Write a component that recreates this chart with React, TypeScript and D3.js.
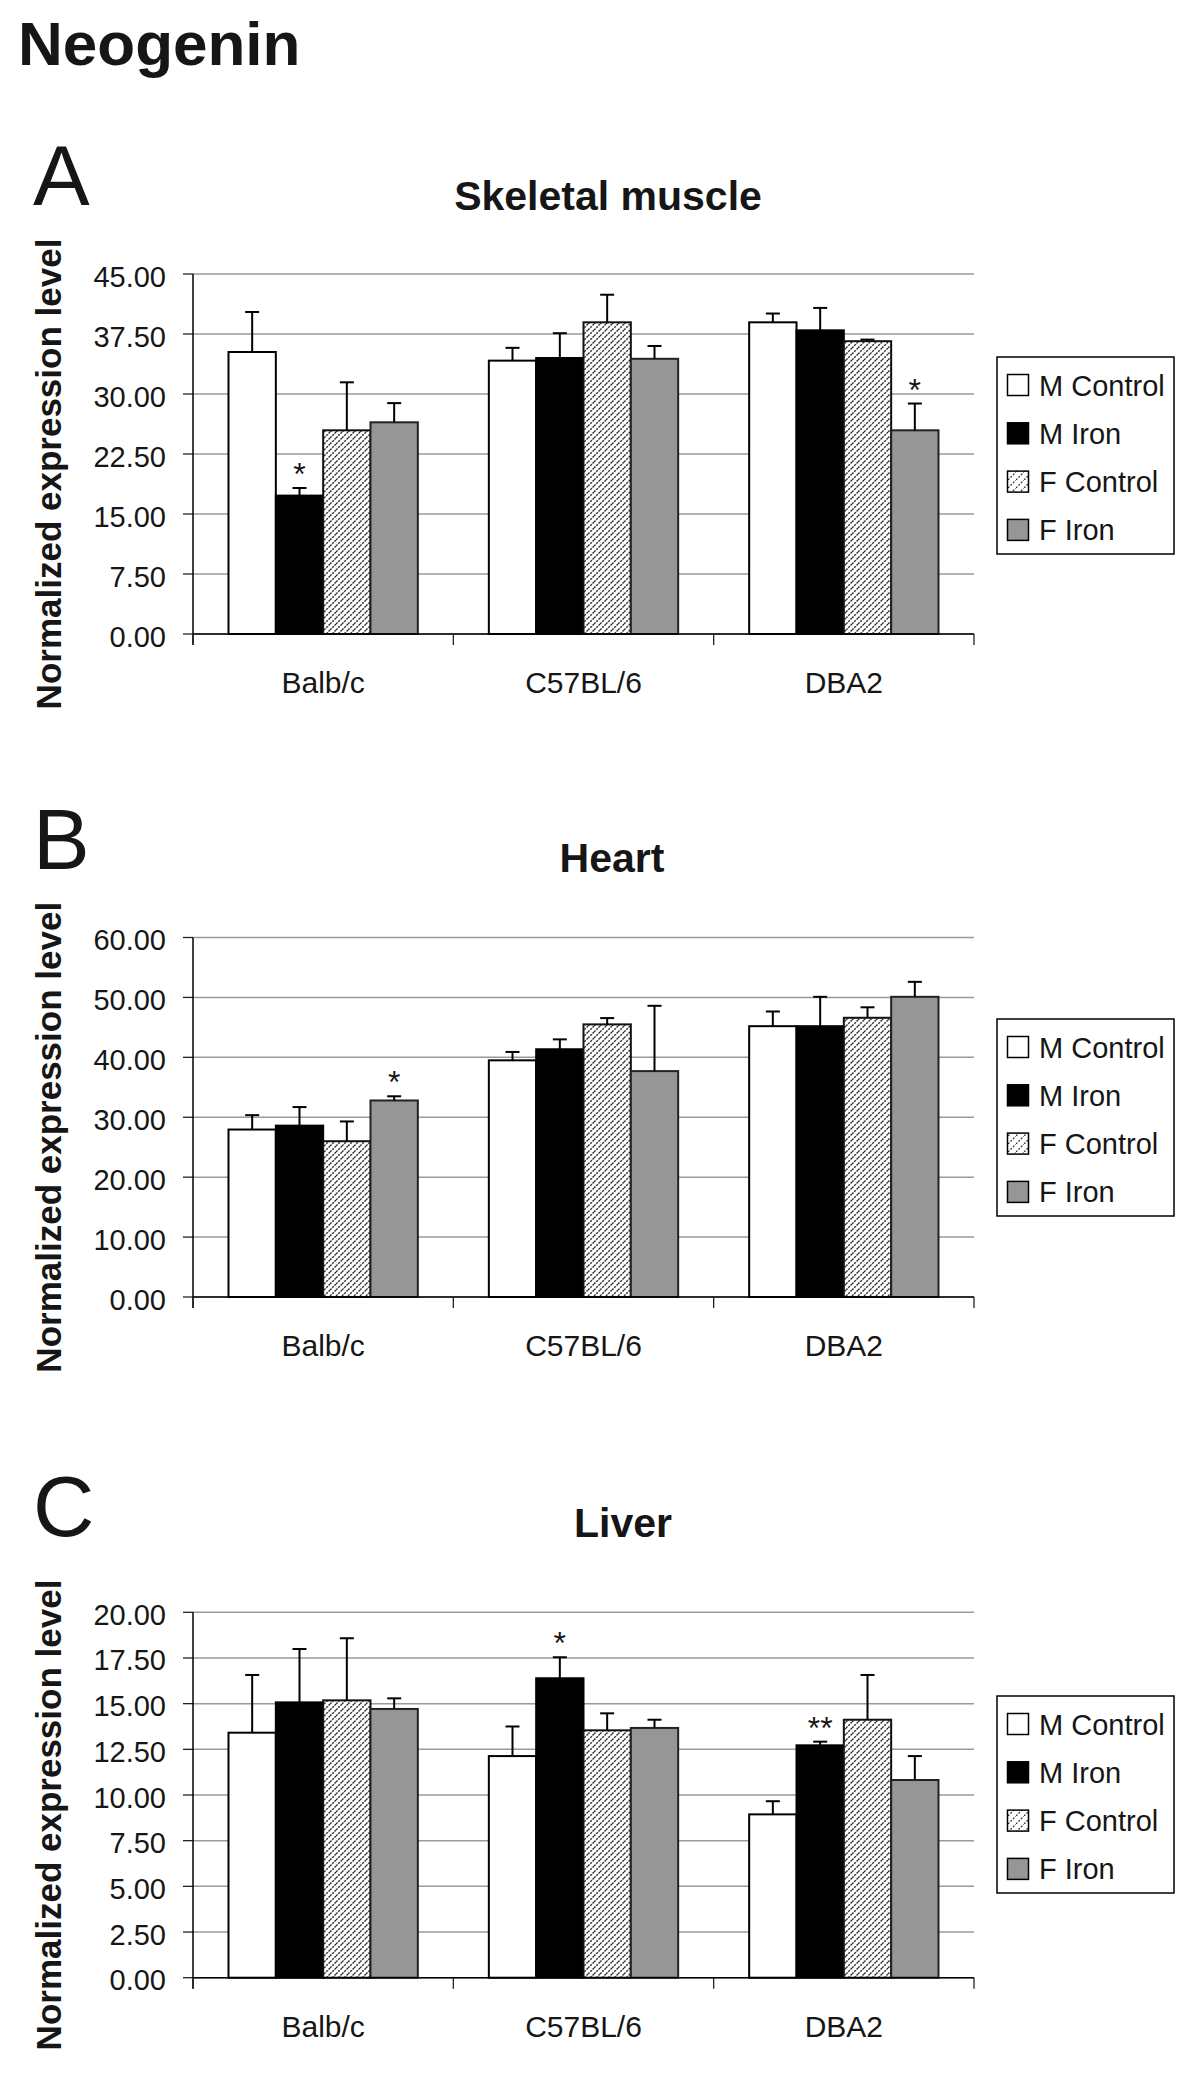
import React from "react";
import * as d3 from "d3";

// ---------- data ----------
const categories = ["Balb/c", "C57BL/6", "DBA2"];
const seriesNames = ["M Control", "M Iron", "F Control", "F Iron"];

// Skeletal muscle
const muscleMControl = [35.25, 34.17, 38.96];
const muscleMIron = [17.3, 34.5, 37.96];
const muscleFControl = [25.46, 38.96, 36.6];
const muscleFIron = [26.46, 34.4, 25.46];
const muscleErrMControl = [5.0, 1.6, 1.1];
const muscleErrMIron = [0.95, 3.1, 2.8];
const muscleErrFControl = [6.0, 3.45, 0.2];
const muscleErrFIron = [2.4, 1.6, 3.35];
const muscleTicks = [0, 7.5, 15, 22.5, 30, 37.5, 45];

// Heart
const heartMControl = [27.95, 39.5, 45.2];
const heartMIron = [28.6, 41.35, 45.2];
const heartFControl = [26.0, 45.5, 46.6];
const heartFIron = [32.8, 37.7, 50.1];
const heartErrMControl = [2.4, 1.4, 2.45];
const heartErrMIron = [3.1, 1.65, 4.9];
const heartErrFControl = [3.3, 1.05, 1.75];
const heartErrFIron = [0.7, 10.9, 2.5];
const heartTicks = [0, 10, 20, 30, 40, 50, 60];

// Liver
const liverMControl = [13.41, 12.13, 8.94];
const liverMIron = [15.07, 16.39, 12.72];
const liverFControl = [15.18, 13.54, 14.12];
const liverFIron = [14.71, 13.67, 10.82];
const liverErrMControl = [3.16, 1.62, 0.72];
const liverErrMIron = [2.92, 1.15, 0.2];
const liverErrFControl = [3.4, 0.93, 2.45];
const liverErrFIron = [0.58, 0.45, 1.31];
const liverTicks = [0, 2.5, 5, 7.5, 10, 12.5, 15, 17.5, 20];

// significance marks: [category, series, label]
const muscleMarks = [["Balb/c", "M Iron", "*"], ["DBA2", "F Iron", "*"]];
const heartMarks = [["Balb/c", "F Iron", "*"]];
const liverMarks = [["C57BL/6", "M Iron", "*"], ["DBA2", "M Iron", "**"]];

// ---------- styling / layout ----------
const FONT = "'Liberation Sans', Arial, Helvetica, sans-serif";
const TEXT = "#161616";
const X0 = 193;
const X1 = 974;

const fills = ["#ffffff", "#000000", "url(#hatch)", "#969696"];
const strokes = ["#000", "#000", "#111", "#222"];

const panels = [
  {
    letter: "A", title: "Skeletal muscle", titleX: 608, titleY: 210, letterY: 205,
    top: 274, bottom: 634, legendTop: 357,
    values: [muscleMControl, muscleMIron, muscleFControl, muscleFIron],
    errs: [muscleErrMControl, muscleErrMIron, muscleErrFControl, muscleErrFIron],
    ticks: muscleTicks, marks: muscleMarks,
  },
  {
    letter: "B", title: "Heart", titleX: 612, titleY: 872, letterY: 869,
    top: 937.5, bottom: 1297, legendTop: 1019,
    values: [heartMControl, heartMIron, heartFControl, heartFIron],
    errs: [heartErrMControl, heartErrMIron, heartErrFControl, heartErrFIron],
    ticks: heartTicks, marks: heartMarks,
  },
  {
    letter: "C", title: "Liver", titleX: 623, titleY: 1537, letterY: 1536,
    top: 1612.3, bottom: 1977.7, legendTop: 1696,
    values: [liverMControl, liverMIron, liverFControl, liverFIron],
    errs: [liverErrMControl, liverErrMIron, liverErrFControl, liverErrFIron],
    ticks: liverTicks, marks: liverMarks,
  },
];

function Panel({ p }: { p: any }) {
  const xCat = d3.scaleBand<string>().domain(categories).range([X0, X1]).paddingInner(0).paddingOuter(0);
  const xSer = d3.scaleBand<string>().domain(seriesNames).range([0, xCat.bandwidth()]).paddingInner(0).paddingOuter(0.75);
  const maxT = p.ticks[p.ticks.length - 1];
  const y = d3.scaleLinear().domain([0, maxT]).range([p.bottom, p.top]);
  const fmt = d3.format(".2f");
  const bw = xSer.bandwidth();
  const boundaries = [...categories.map((c) => xCat(c)!), X1];
  const mid = (p.top + p.bottom) / 2;

  return (
    <g>
      <text x={33} y={p.letterY} fontFamily={FONT} fontSize={85} fill={TEXT}>{p.letter}</text>
      <text x={p.titleX} y={p.titleY} textAnchor="middle" fontFamily={FONT} fontSize={41} fontWeight="bold" fill={TEXT}>{p.title}</text>
      {/* gridlines */}
      {p.ticks.map((t: number) => (
        <line key={"g" + t} x1={X0} x2={X1} y1={y(t)} y2={y(t)} stroke="#9a9a9a" strokeWidth={1.5} />
      ))}
      {/* y ticks & labels */}
      {p.ticks.map((t: number) => (
        <g key={"t" + t}>
          <line x1={X0 - 10} x2={X0} y1={y(t)} y2={y(t)} stroke="#222" strokeWidth={1.3} />
          <text x={166} y={y(t) + 12.5} textAnchor="end" fontFamily={FONT} fontSize={29} fill={TEXT}>{fmt(t)}</text>
        </g>
      ))}
      {/* bars */}
      {seriesNames.map((s, si) =>
        categories.map((c, ci) => {
          const v = p.values[si][ci];
          const bx = xCat(c)! + xSer(s)!;
          return (
            <rect key={s + c} x={bx} y={y(v)} width={bw} height={p.bottom - y(v)}
              fill={fills[si]} stroke={strokes[si]} strokeWidth={2} />
          );
        })
      )}
      {/* error bars */}
      {seriesNames.map((s, si) =>
        categories.map((c, ci) => {
          const v = p.values[si][ci];
          const e = p.errs[si][ci];
          const cx = xCat(c)! + xSer(s)! + bw / 2;
          return (
            <g key={"e" + s + c} stroke="#000" strokeWidth={2}>
              <line x1={cx} x2={cx} y1={y(v)} y2={y(v + e)} />
              <line x1={cx - 7} x2={cx + 7} y1={y(v + e)} y2={y(v + e)} />
            </g>
          );
        })
      )}
      {/* significance marks */}
      {p.marks.map((m: string[], i: number) => {
        const ci = categories.indexOf(m[0]);
        const si = seriesNames.indexOf(m[1]);
        const v = p.values[si][ci] + p.errs[si][ci];
        const cx = xCat(m[0])! + xSer(m[1])! + bw / 2;
        return (
          <text key={"m" + i} x={cx} y={y(v) - 3} textAnchor="middle" fontFamily={FONT} fontSize={32} fill={TEXT}>{m[2]}</text>
        );
      })}
      {/* axes */}
      <line x1={X0} x2={X0} y1={p.top} y2={p.bottom + 11} stroke="#000" strokeWidth={1.5} />
      <line x1={X0} x2={X1} y1={p.bottom} y2={p.bottom} stroke="#000" strokeWidth={1.5} />
      {boundaries.map((bx, i) => (
        <line key={"b" + i} x1={bx} x2={bx} y1={p.bottom} y2={p.bottom + 11} stroke="#222" strokeWidth={1.3} />
      ))}
      {categories.map((c) => (
        <text key={"c" + c} x={xCat(c)! + xCat.bandwidth() / 2} y={p.bottom + 59} textAnchor="middle" fontFamily={FONT} fontSize={30} fill={TEXT}>{c}</text>
      ))}
      {/* y axis title */}
      <text transform={`translate(61, ${mid + 20}) rotate(-90)`} textAnchor="middle" fontFamily={FONT} fontSize={35} fontWeight="bold" fill={TEXT}>
        Normalized expression level
      </text>
      {/* legend */}
      <rect x={997} y={p.legendTop} width={177} height={197} fill="#fff" stroke="#000" strokeWidth={1.5} />
      {seriesNames.map((s, si) => {
        const cy = p.legendTop + 28 + si * 48.3;
        return (
          <g key={"l" + s}>
            <rect x={1007.5} y={cy - 10.5} width={21} height={21} fill={si === 2 ? "url(#hatchLegend)" : fills[si]} stroke="#000" strokeWidth={1.5} />
            <text x={1039} y={cy + 10.5} fontFamily={FONT} fontSize={29} fill={TEXT}>{s}</text>
          </g>
        );
      })}
    </g>
  );
}

export default function App() {
  return (
    <svg width={1200} height={2075} style={{ position: "absolute", left: 0, top: 0, display: "block", background: "#fff" }}>
      <defs>
        <pattern id="hatch" patternUnits="userSpaceOnUse" width={6} height={6}>
          <rect width={6} height={6} fill="#fff" />
          <path d="M0,6 L6,0 M-1.5,1.5 L1.5,-1.5 M4.5,7.5 L7.5,4.5" stroke="#333" strokeWidth={1.4} strokeDasharray="2.2 1" />
        </pattern>
        <pattern id="hatchLegend" patternUnits="userSpaceOnUse" width={8} height={8}>
          <rect width={8} height={8} fill="#fff" />
          <path d="M0,8 L8,0 M-2,2 L2,-2 M6,10 L10,6" stroke="#333" strokeWidth={1.3} strokeDasharray="2 1.5" />
        </pattern>
      </defs>
      <rect width={1200} height={2075} fill="#fff" />
      <text x={18} y={65} fontFamily={FONT} fontSize={62} fontWeight="bold" fill={TEXT}>Neogenin</text>
      {panels.map((p) => (
        <Panel key={p.letter} p={p} />
      ))}
    </svg>
  );
}
